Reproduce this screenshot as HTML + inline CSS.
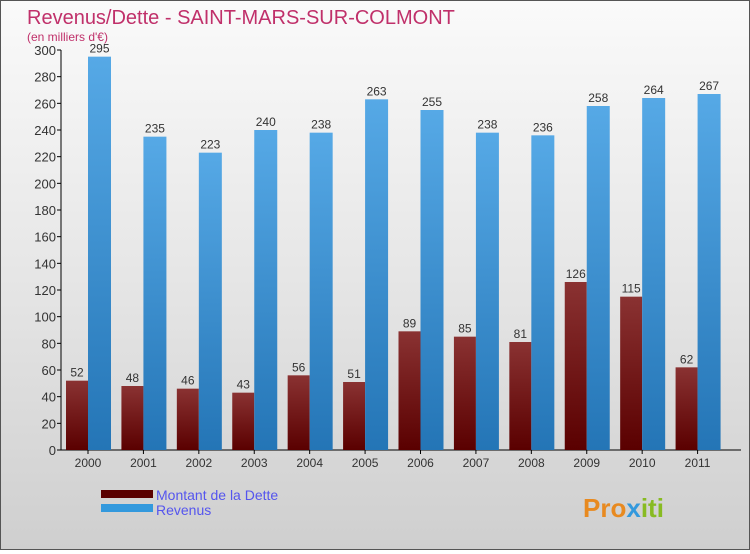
<!DOCTYPE html>
<html><head><meta charset="utf-8"><style>
body{margin:0;width:750px;height:550px;overflow:hidden;font-family:"Liberation Sans",sans-serif}
#wrap{position:relative;width:748px;height:548px;border:1px solid #555;background:linear-gradient(#fafafa,#e6e6e6 50%,#cfcfcf)}
</style></head><body>
<div id="wrap">
<svg id="chart" width="748" height="548" xmlns="http://www.w3.org/2000/svg">
<defs>
<linearGradient id="gd" x1="0" y1="0" x2="0" y2="1"><stop offset="0" stop-color="#8a3232"/><stop offset="1" stop-color="#5a0000"/></linearGradient>
<linearGradient id="gr" x1="0" y1="0" x2="0" y2="1"><stop offset="0" stop-color="#56a9e6"/><stop offset="1" stop-color="#2475b6"/></linearGradient>
</defs>
<text x="26" y="23" font-size="20" fill="#c0306a">Revenus/Dette - SAINT-MARS-SUR-COLMONT</text>
<text x="26" y="40" font-size="12" fill="#c0306a">(en milliers d'€)</text>
<g id="plot"></g>
<rect x="100" y="489" width="52" height="8" fill="#5a0000"/>
<rect x="100" y="503" width="52" height="8" fill="#3399dd"/>
<text x="155" y="499" font-size="14" fill="#5555ee">Montant de la Dette</text>
<text x="155" y="514" font-size="14" fill="#5555ee">Revenus</text>
<text x="582" y="516" font-size="26" font-weight="bold" fill="#e88a20">Pro<tspan fill="#3399dd">x</tspan><tspan fill="#88bb22">iti</tspan></text>
</svg>
</div>
<script>
const years=["2000","2001","2002","2003","2004","2005","2006","2007","2008","2009","2010","2011"];
const dette=[52,48,46,43,56,51,89,85,81,126,115,62];
const revenus=[295,235,223,240,238,263,255,238,236,258,264,267];
const yTicks=[0,20,40,60,80,100,120,140,160,180,200,220,240,260,280,300];
const NS="http://www.w3.org/2000/svg";
const g=document.getElementById('plot');
const x0=60,x1=740,yb=449,yt=49,ymax=300;
const y=v=>yb-(v/ymax)*(yb-yt);
const step=(x1-x0-15)/years.length;
const cx=i=>x0+27+step*i;
function mk(t,a){const e=document.createElementNS(NS,t);for(const k in a)e.setAttribute(k,a[k]);g.appendChild(e);return e;}
let ax=mk('line',{x1:x0,y1:yt,x2:x0,y2:yb,stroke:'#000'});


let bx=mk('line',{x1:x0,y1:yb,x2:x1,y2:yb,stroke:'#000'});


yTicks.forEach(v=>{
 mk('line',{x1:x0-4,y1:y(v),x2:x0,y2:y(v),stroke:'#000'});
 const t=mk('text',{x:x0-5,y:y(v)+5,'font-size':13,'text-anchor':'end',fill:'#333'});t.textContent=v;
 
 
});
years.forEach((yr,i)=>{
 const c=cx(i);
 mk('line',{x1:c,y1:yb,x2:c,y2:yb+4,stroke:'#000'});
 const t=mk('text',{x:c,y:yb+17,'font-size':12,'text-anchor':'middle',fill:'#333'});t.textContent=yr;
 
 
 const d=mk('rect',{x:c-22,y:y(dette[i]),width:22,height:yb-y(dette[i]),fill:'url(#gd)'});
 
 
 const r=mk('rect',{x:c,y:y(revenus[i]),width:23,height:yb-y(revenus[i]),fill:'url(#gr)'});
 
 
 const l1=mk('text',{x:c-11,y:y(dette[i])-4,'font-size':12,'text-anchor':'middle',fill:'#333'});l1.textContent=dette[i];
 
 
 const l2=mk('text',{x:c+11.5,y:y(revenus[i])-4,'font-size':12,'text-anchor':'middle',fill:'#333'});l2.textContent=revenus[i];
 
 
});
</script>
</body></html>
